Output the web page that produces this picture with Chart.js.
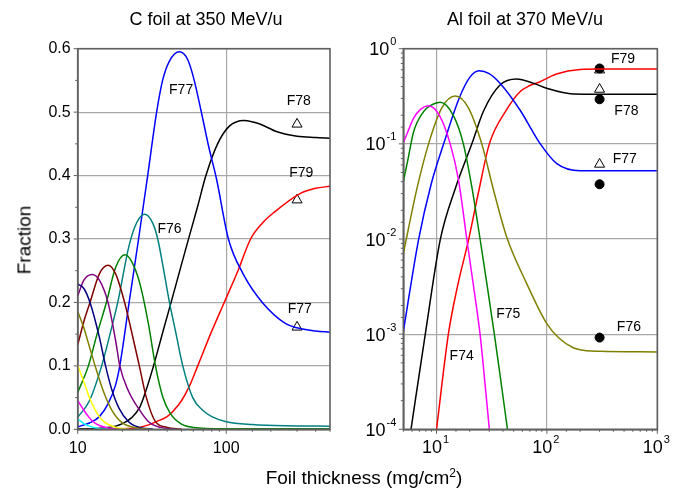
<!DOCTYPE html>
<html>
<head>
<meta charset="utf-8">
<script src="https://cdn.jsdelivr.net/npm/chart.js@4/dist/chart.umd.min.js"></script>
<style>
  body { margin: 0; background: #fff; width: 685px; height: 491px; position: relative; overflow: hidden; font-family: "Liberation Sans", Arial, sans-serif; }
  canvas { position: absolute; top: 0; }
  .t { position: absolute; white-space: nowrap; color: #000; line-height: 1; }
</style>
</head>
<body>
<canvas id="left" width="340" height="491" style="left:0"></canvas>
<canvas id="right" width="345" height="491" style="left:340px"></canvas>
<div class="t" style="left:206px;top:10px;transform:translateX(-50%);font-size:18px">C foil at 350 MeV/u</div>
<div class="t" style="left:525px;top:10px;transform:translateX(-50%);font-size:18px">Al foil at 370 MeV/u</div>
<div class="t" style="left:364px;top:467px;transform:translateX(-50%);font-size:19px">Foil thickness (mg/cm<sup style="font-size:12px">2</sup>)</div>
<div class="t" style="left:24px;top:240px;transform:translate(-50%,-50%) rotate(-90deg);font-size:19px">Fraction</div>
<script>
// ---- C foil at 350 MeV/u (thickness in mg/cm2, fraction) ----
const cF68_t = [10, 11, 12, 13, 14, 16];
const cF68_v = [0.016, 0.009, 0.005, 0.0025, 0.001, 0.0002];
const cF69_t = [10, 11, 12, 13, 14, 16, 18];
const cF69_v = [0.045, 0.03, 0.018, 0.01, 0.006, 0.002, 0.0005];
const cF70_t = [10, 11, 12, 13.5, 15, 18, 22];
const cF70_v = [0.101, 0.075, 0.05, 0.025, 0.012, 0.003, 0.0005];
const cF71_t = [10, 11, 12, 13.1, 15, 17, 20, 25, 30];
const cF71_v = [0.186, 0.16, 0.13, 0.1, 0.058, 0.03, 0.01, 0.002, 0.0005];
const cF72_t = [10, 11, 12.1, 14, 15.4, 17, 19, 22, 26, 32];
const cF72_v = [0.229, 0.222, 0.2, 0.145, 0.1, 0.062, 0.033, 0.012, 0.003, 0.0005];
const cF73_t = [10, 11, 12.5, 14, 16, 18, 19.2, 22, 26.2, 30, 36, 45];
const cF73_v = [0.21, 0.235, 0.244, 0.235, 0.2, 0.14, 0.1, 0.06, 0.03, 0.012, 0.003, 0.0005];
const cF74_t = [10, 11, 12.1, 14, 16, 18, 20.7, 23, 26, 29, 33.4, 40, 50];
const cF74_v = [0.133, 0.17, 0.2, 0.245, 0.2585, 0.245, 0.2, 0.155, 0.1, 0.05, 0.012, 0.003, 0.0005];
const cF75_t = [10, 11.8, 13.5, 15.6, 18, 20.8, 23, 26.2, 30, 33.4, 37.5, 42, 50, 60, 100, 500];
const cF75_v = [0.058, 0.1, 0.15, 0.2, 0.255, 0.275, 0.265, 0.23, 0.165, 0.1, 0.05, 0.025, 0.008, 0.003, 0.001, 0.0008];
const cF76_t = [10, 12, 14.5, 16.5, 18.6, 22.2, 25, 28.2, 32, 34.6, 38, 41.5, 46, 51, 59.5, 69.5, 80, 100, 150, 250, 500];
const cF76_v = [0.019, 0.045, 0.1, 0.15, 0.2, 0.29, 0.326, 0.339, 0.325, 0.3, 0.25, 0.2, 0.15, 0.1, 0.05, 0.03, 0.02, 0.012, 0.0075, 0.0055, 0.005];
const cF77_t = [10, 12, 14, 16, 18, 19.2, 22.2, 25.7, 29.6, 34, 37.3, 41.4, 48.4, 55, 60, 67.6, 76, 86, 103.5, 130, 175, 250, 300, 400, 500];
const cF77_v = [0.004, 0.01, 0.02, 0.04, 0.07, 0.1, 0.2, 0.3, 0.4, 0.5, 0.55, 0.58, 0.595, 0.583, 0.556, 0.503, 0.447, 0.395, 0.3, 0.245, 0.2, 0.167, 0.16, 0.155, 0.153];
const cF78_t = [10, 15, 18, 20, 23, 26.2, 29, 32.4, 38, 43.7, 50, 55.9, 64, 73, 87.5, 105, 132, 170, 220, 300, 400, 500];
const cF78_v = [0.0005, 0.002, 0.005, 0.009, 0.018, 0.035, 0.063, 0.1, 0.159, 0.21, 0.26, 0.301, 0.35, 0.4, 0.45, 0.478, 0.487, 0.481, 0.469, 0.462, 0.46, 0.459];
const cF79_t = [10, 15, 20, 26, 30, 33.8, 40, 43.7, 50, 56.5, 64.3, 79, 97, 120, 146, 175, 210, 316, 400, 500];
const cF79_v = [0.0001, 0.0003, 0.001, 0.003, 0.007, 0.012, 0.02, 0.028, 0.045, 0.068, 0.1, 0.152, 0.2, 0.25, 0.3, 0.325, 0.342, 0.372, 0.38, 0.383];
// measured points at 300 mg/cm2
const cMeasT = [300, 300, 300];
const cMeasTri = [0.481, 0.3615, 0.161];

// ---- Al foil at 370 MeV/u ----
const aF74_t = [5, 5.5, 6.2, 7.2, 8.47, 10.7, 13.3, 15.8, 18.8, 21.8, 24.8, 27.5, 30.1];
const aF74_v = [0.103, 0.134, 0.186, 0.232, 0.252, 0.196, 0.1, 0.042, 0.01, 0.003, 0.001, 0.0003, 0.0001];
const aF75_t = [5, 5.5, 6.2, 7.64, 9, 10.8, 14.3, 17.5, 20.9, 24.8, 28.8, 33.4, 38.3, 43.9];
const aF75_v = [0.04, 0.068, 0.134, 0.218, 0.256, 0.273, 0.196, 0.1, 0.035, 0.01, 0.0032, 0.001, 0.00032, 0.0001];
const aF76_t = [5, 6.65, 8.47, 11.2, 14.8, 19.5, 25.7, 33, 43.2, 65.6, 99.3, 130, 173, 230, 301, 1000];
const aF76_v = [0.007, 0.034, 0.1, 0.24, 0.318, 0.238, 0.1, 0.032, 0.0105, 0.0034, 0.0013, 0.0009, 0.00072, 0.00067, 0.00066, 0.00065];
const aF77_t = [5, 6.87, 8.9, 11.6, 16, 20, 24.3, 30, 37.6, 57, 86.5, 122, 200, 1000];
const aF77_v = [0.00106, 0.0098, 0.037, 0.1, 0.3, 0.5, 0.587, 0.547, 0.433, 0.227, 0.101, 0.0624, 0.0522, 0.052];
const aF78_t = [5.87, 7.91, 10.8, 14.8, 20.9, 26.6, 37.6, 53.2, 75, 99.3, 173, 300, 1000];
const aF78_v = [0.0001, 0.001, 0.0098, 0.034, 0.1, 0.22, 0.415, 0.48, 0.435, 0.384, 0.334, 0.332, 0.332];
const aF79_t = [10, 12.8, 15.5, 19.5, 24, 30.1, 43, 57, 70, 86.5, 122, 200, 300, 1000];
const aF79_v = [0.0001, 0.001, 0.0032, 0.0098, 0.031, 0.1, 0.227, 0.353, 0.41, 0.45, 0.542, 0.605, 0.612, 0.612];
const aMeasT = [300, 300, 300, 300];
const aMeasDot = [0.62, 0.294, 0.0376, 0.00092];
const aMeasTri = [0.597, 0.374, 0.061];

// text labels: [text, thickness, fraction]
const cNotes = [['F77', 49.7, 0.534], ['F78', 308, 0.518], ['F79', 320, 0.404], ['F76', 41.5, 0.316], ['F77', 313, 0.19]];
const aNotes = [['F79', 489, 0.774], ['F78', 525, 0.221], ['F77', 507, 0.0688], ['F76', 553, 0.00118], ['F75', 44.7, 0.00163], ['F74', 16.9, 0.000593]];

const FONT = '"Liberation Sans", Arial, sans-serif';
const GRID = '#a8a8a8';
const AXIS = '#606060';

function curve(t, v, color) {
  return {
    data: t.map((x, i) => ({ x: x, y: v[i] })),
    borderColor: color, borderWidth: 1.5, pointRadius: 0,
    cubicInterpolationMode: 'monotone', fill: false
  };
}
function marks(t, v, style, fillColor, r) {
  return {
    data: v.map((y, i) => ({ x: t[i], y: y })),
    showLine: false, pointStyle: style, pointRadius: r, pointHoverRadius: r,
    pointBackgroundColor: fillColor, pointBorderColor: '#000', pointBorderWidth: 1
  };
}
const isDecade = v => Math.abs(Math.log10(v) - Math.round(Math.log10(v))) < 1e-6;

// frame, tick marks, power-of-ten labels and text notes
const framePlugin = {
  id: 'frame',
  afterDraw(chart, args, opts) {
    const ctx = chart.ctx, a = chart.chartArea, xs = chart.scales.x, ys = chart.scales.y;
    ctx.save();
    ctx.strokeStyle = AXIS;
    ctx.lineWidth = 1;
    xs.ticks.forEach(tk => {
      const px = xs.getPixelForValue(tk.value);
      const len = isDecade(tk.value) ? 4.5 : 2.5;
      ctx.beginPath(); ctx.moveTo(px, a.bottom); ctx.lineTo(px, a.bottom + len); ctx.stroke();
    });
    let yv = ys.ticks.map(tk => tk.value);
    if (ys.type === 'linear') {
      const mids = [];
      for (let i = 0; i < yv.length - 1; i++) mids.push((yv[i] + yv[i + 1]) / 2);
      yv.forEach(v => { const py = ys.getPixelForValue(v); ctx.beginPath(); ctx.moveTo(a.left, py); ctx.lineTo(a.left - 4, py); ctx.stroke(); });
      mids.forEach(v => { const py = ys.getPixelForValue(v); ctx.beginPath(); ctx.moveTo(a.left, py); ctx.lineTo(a.left - 2.5, py); ctx.stroke(); });
    } else {
      yv.forEach(v => {
        const py = ys.getPixelForValue(v);
        const len = isDecade(v) ? 4.5 : 2.5;
        ctx.beginPath(); ctx.moveTo(a.left, py); ctx.lineTo(a.left - len, py); ctx.stroke();
      });
    }
    // box
    ctx.lineWidth = 1.6;
    ctx.strokeRect(a.left, a.top, a.right - a.left, a.bottom - a.top);

    ctx.fillStyle = '#000';
    if (opts.powers) {
      const big = '18px ' + FONT, small = '11px ' + FONT;
      const pow = (e, cx, base, alignRight) => {
        ctx.font = big; const w1 = ctx.measureText('10').width;
        ctx.font = small; const w2 = ctx.measureText(e).width;
        const x0 = alignRight ? cx - w1 - w2 - 1 : cx - (w1 + w2 + 1) / 2;
        ctx.textAlign = 'left'; ctx.textBaseline = 'alphabetic';
        ctx.font = big; ctx.fillText('10', x0, base);
        ctx.font = small; ctx.fillText(e, x0 + w1 + 1, base - 10);
      };
      ys.ticks.filter(tk => isDecade(tk.value)).forEach(tk => {
        const py = ys.getPixelForValue(tk.value);
        pow(String(Math.round(Math.log10(tk.value))), a.left - 7, py + 6.5, true);
      });
      xs.ticks.filter(tk => isDecade(tk.value)).forEach(tk => {
        const px = xs.getPixelForValue(tk.value);
        pow(String(Math.round(Math.log10(tk.value))), px - 1, a.bottom + 24, false);
      });
    }
    ctx.font = '14px ' + FONT;
    ctx.textAlign = 'center'; ctx.textBaseline = 'middle';
    (opts.notes || []).forEach(n => {
      ctx.fillText(n[0], xs.getPixelForValue(n[1]), ys.getPixelForValue(n[2]));
    });
    ctx.restore();
  }
};

const common = {
  responsive: false, animation: false, devicePixelRatio: 1,
  plugins: { legend: { display: false }, tooltip: { enabled: false } }
};

new Chart(document.getElementById('left'), {
  type: 'line',
  data: {
    datasets: [
      curve(cF68_t, cF68_v, '#00ffff'),
      curve(cF69_t, cF69_v, '#ff00ff'),
      curve(cF70_t, cF70_v, '#ffff00'),
      curve(cF71_t, cF71_v, '#808000'),
      curve(cF72_t, cF72_v, '#000080'),
      curve(cF73_t, cF73_v, '#800080'),
      curve(cF74_t, cF74_v, '#800000'),
      curve(cF75_t, cF75_v, '#008000'),
      curve(cF76_t, cF76_v, '#008080'),
      curve(cF77_t, cF77_v, '#0000ff'),
      curve(cF78_t, cF78_v, '#000000'),
      curve(cF79_t, cF79_v, '#ff0000'),
      marks(cMeasT, cMeasTri, 'triangle', '#ffffff', 5.8)
    ]
  },
  options: Object.assign({}, common, {
    layout: { padding: { left: 0, top: 48.7, right: 8.3, bottom: 0 } },
    plugins: Object.assign({}, common.plugins, { frame: { notes: cNotes, powers: false } }),
    scales: {
      x: {
        type: 'logarithmic', min: 10, max: 500,
        afterFit: s => { s.height = 61.7; },
        grid: { drawTicks: false, color: c => (c.tick && Math.abs(c.tick.value - 100) < 1e-6) ? GRID : 'transparent', lineWidth: 1.2 },
        border: { color: AXIS, width: 1.6 },
        ticks: {
          autoSkip: false, maxRotation: 0, padding: 10, color: '#000',
          font: { family: FONT, size: 16 },
          callback: v => (v === 10 || v === 100) ? String(v) : ''
        }
      },
      y: {
        type: 'linear', min: 0, max: 0.6,
        afterFit: s => { s.width = 77.7; },
        grid: { drawTicks: false, color: GRID, lineWidth: 1.2 },
        border: { color: AXIS, width: 1.6 },
        ticks: {
          stepSize: 0.1, padding: 7, color: '#000',
          font: { family: FONT, size: 16 },
          callback: v => v.toFixed(1)
        }
      }
    }
  }),
  plugins: [framePlugin]
});

new Chart(document.getElementById('right'), {
  type: 'line',
  data: {
    datasets: [
      curve(aF74_t, aF74_v, '#ff00ff'),
      curve(aF75_t, aF75_v, '#008000'),
      curve(aF76_t, aF76_v, '#808000'),
      curve(aF77_t, aF77_v, '#0000ff'),
      curve(aF78_t, aF78_v, '#000000'),
      curve(aF79_t, aF79_v, '#ff0000'),
      marks(aMeasT, aMeasDot, 'circle', '#000000', 4.5),
      marks(aMeasT.slice(0, 3), aMeasTri, 'triangle', '#ffffff', 5.8)
    ]
  },
  options: Object.assign({}, common, {
    layout: { padding: { left: 0, top: 48.7, right: 27.7, bottom: 0 } },
    plugins: Object.assign({}, common.plugins, { frame: { notes: aNotes, powers: true } }),
    scales: {
      x: {
        type: 'logarithmic', min: 5, max: 1000,
        afterFit: s => { s.height = 61.7; },
        grid: { drawTicks: false, color: c => (c.tick && isDecade(c.tick.value)) ? GRID : 'transparent', lineWidth: 1.2 },
        border: { color: AXIS, width: 1.6 },
        ticks: { display: false, autoSkip: false }
      },
      y: {
        type: 'logarithmic', min: 0.0001, max: 1,
        afterFit: s => { s.width = 63.3; },
        grid: { drawTicks: false, color: c => (c.tick && isDecade(c.tick.value)) ? GRID : 'transparent', lineWidth: 1.2 },
        border: { color: AXIS, width: 1.6 },
        ticks: { display: false, autoSkip: false }
      }
    }
  }),
  plugins: [framePlugin]
});
</script>
</body>
</html>
